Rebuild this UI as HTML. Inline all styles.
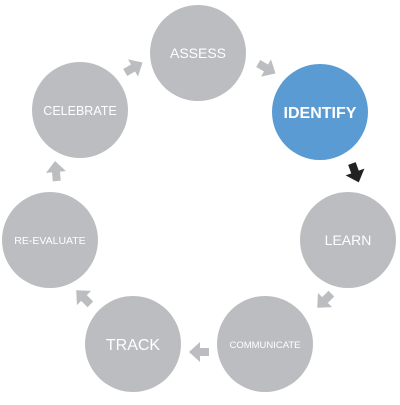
<!DOCTYPE html>
<html><head><meta charset="utf-8"><style>
body{margin:0;background:#fff;width:400px;height:400px;overflow:hidden}
text{font-family:"Liberation Sans",sans-serif;fill:#fff;text-anchor:middle}
</style></head><body>
<svg width="400" height="400" viewBox="0 0 400 400">
<defs><polygon id="a" points="-9,-4 0,-4 0,-10 11,0 0,10 0,4 -9,4"/></defs>
<g fill="#bcbdc0">
<circle cx="198" cy="53" r="48"/>
<circle cx="348" cy="240" r="48"/>
<circle cx="265" cy="344" r="48"/>
<circle cx="133" cy="344" r="48"/>
<circle cx="50" cy="240" r="48"/>
<circle cx="80" cy="110" r="48"/>
</g>
<circle cx="320" cy="112" r="48" fill="#5b9bd3"/>
<g fill="#bcbdc0">
<use href="#a" transform="translate(266,68) rotate(30)"/>
<use href="#a" transform="translate(325,300) rotate(135)"/>
<use href="#a" transform="translate(200,352) rotate(180)"/>
<use href="#a" transform="translate(84,298) rotate(225)"/>
<use href="#a" transform="translate(56,172) rotate(-95)"/>
<use href="#a" transform="translate(133,68) rotate(-30)"/>
</g>
<use href="#a" fill="#222" transform="translate(355,172) rotate(70)"/>
<text x="198" y="58" font-size="14">ASSESS</text>
<text x="320" y="118" font-size="16" font-weight="bold">IDENTIFY</text>
<text x="348" y="245" font-size="14">LEARN</text>
<text x="265" y="348" font-size="9.5">COMMUNICATE</text>
<text x="133" y="350" font-size="16">TRACK</text>
<text x="50" y="244" font-size="10.5">RE-EVALUATE</text>
<text x="80" y="115" font-size="12.5">CELEBRATE</text>
</svg>
</body></html>
